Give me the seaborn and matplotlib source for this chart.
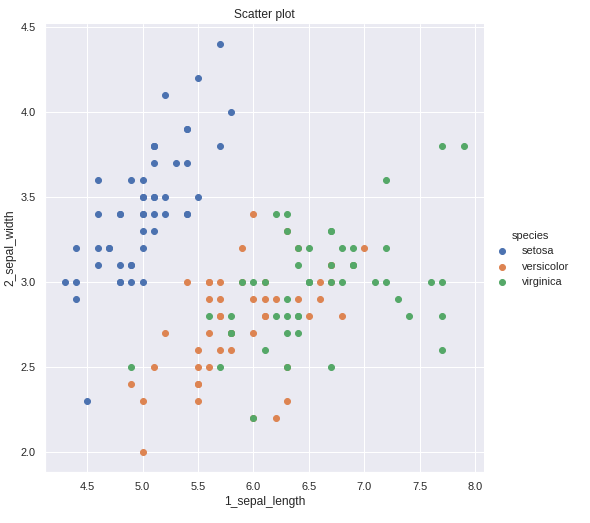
import matplotlib
matplotlib.use("Agg")
import matplotlib.pyplot as plt
import seaborn as sns
import pandas as pd

setosa_sl = [5.1,4.9,4.7,4.6,5.0,5.4,4.6,5.0,4.4,4.9,5.4,4.8,4.8,4.3,5.8,5.7,5.4,5.1,5.7,5.1,
             5.4,5.1,4.6,5.1,4.8,5.0,5.0,5.2,5.2,4.7,4.8,5.4,5.2,5.5,4.9,5.0,5.5,4.9,4.4,5.1,
             5.0,4.5,4.4,5.0,5.1,4.8,5.1,4.6,5.3,5.0]
setosa_sw = [3.5,3.0,3.2,3.1,3.6,3.9,3.4,3.4,2.9,3.1,3.7,3.4,3.0,3.0,4.0,4.4,3.9,3.5,3.8,3.8,
             3.4,3.7,3.6,3.3,3.4,3.0,3.4,3.5,3.4,3.2,3.1,3.4,4.1,4.2,3.1,3.2,3.5,3.6,3.0,3.4,
             3.5,2.3,3.2,3.5,3.8,3.0,3.8,3.2,3.7,3.3]
versicolor_sl = [7.0,6.4,6.9,5.5,6.5,5.7,6.3,4.9,6.6,5.2,5.0,5.9,6.0,6.1,5.6,6.7,5.6,5.8,6.2,5.6,
                 5.9,6.1,6.3,6.1,6.4,6.6,6.8,6.7,6.0,5.7,5.5,5.5,5.8,6.0,5.4,6.0,6.7,6.3,5.6,5.5,
                 5.5,6.1,5.8,5.0,5.6,5.7,5.7,6.2,5.1,5.7]
versicolor_sw = [3.2,3.2,3.1,2.3,2.8,2.8,3.3,2.4,2.9,2.7,2.0,3.0,2.2,2.9,2.9,3.1,3.0,2.7,2.2,2.5,
                 3.2,2.8,2.5,2.8,2.9,3.0,2.8,3.0,2.9,2.6,2.4,2.4,2.7,2.7,3.0,3.4,3.1,2.3,3.0,2.5,
                 2.6,3.0,2.6,2.3,2.7,3.0,2.9,2.9,2.5,2.8]
virginica_sl = [6.3,5.8,7.1,6.3,6.5,7.6,4.9,7.3,6.7,7.2,6.5,6.4,6.8,5.7,5.8,6.4,6.5,7.7,7.7,6.0,
                6.9,5.6,7.7,6.3,6.7,7.2,6.2,6.1,6.4,7.2,7.4,7.9,6.4,6.3,6.1,7.7,6.3,6.4,6.0,6.9,
                6.7,6.9,5.8,6.8,6.7,6.7,6.3,6.5,6.2,5.9]
virginica_sw = [3.3,2.7,3.0,2.9,3.0,3.0,2.5,2.9,2.5,3.6,3.2,2.7,3.0,2.5,2.8,3.2,3.0,3.8,2.6,2.2,
                3.2,2.8,2.8,2.7,3.3,3.2,2.8,3.0,2.8,3.0,2.8,3.8,2.8,2.8,2.6,3.0,3.4,3.1,3.0,3.1,
                3.1,3.1,2.7,3.2,3.3,3.0,2.5,3.0,3.4,3.0]
species_names = ["setosa", "versicolor", "virginica"]

df = pd.DataFrame({
    "1_sepal_length": setosa_sl + versicolor_sl + virginica_sl,
    "2_sepal_width": setosa_sw + versicolor_sw + virginica_sw,
    "species": [species_names[0]] * len(setosa_sl)
               + [species_names[1]] * len(versicolor_sl)
               + [species_names[2]] * len(virginica_sl),
})

sns.set_theme()
plt.rcParams["font.family"] = ["Liberation Sans", "DejaVu Sans"]
g = sns.FacetGrid(df, hue="species", height=7)
g.map(plt.scatter, "1_sepal_length", "2_sepal_width")
g.add_legend()
g.ax.set_title("Scatter plot")

W, H = 590, 523
fig = g.figure
fig.set_dpi(72)
fig.set_size_inches(W / 72, H / 72)
fig.subplots_adjust(left=45 / W, right=484 / W, top=1 - 24 / H, bottom=1 - 472 / H)
leg = g._legend
leg.get_title().set_fontsize(11)
leg.set_loc("center left")
leg.set_bbox_to_anchor((481 / W, 0.505), transform=fig.transFigure)
fig.savefig("out.png", dpi=72)
